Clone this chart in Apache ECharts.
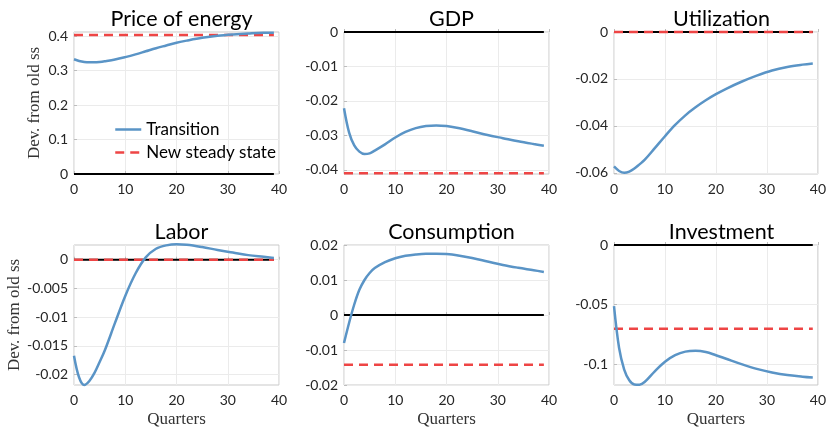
<!DOCTYPE html>
<html>
<head>
<meta charset="utf-8">
<script src="https://cdn.jsdelivr.net/npm/echarts@6/dist/echarts.min.js"></script>
<style>
  html, body { margin: 0; padding: 0; background: #fff; }
  #chart { width: 829px; height: 429px; }
</style>
</head>
<body>
<div id="chart"></div>
<script>
const quarters = [0, 1, 2, 3, 4, 5, 6, 8, 10, 12, 14, 16, 18, 20, 22, 25, 28, 31, 34, 37, 39]
const lastQuarter = 39

const titles = ['Price of energy', 'GDP', 'Utilization', 'Labor', 'Consumption', 'Investment']

const priceEnergy = [0.333, 0.328, 0.325, 0.324, 0.324, 0.325, 0.327, 0.332, 0.339, 0.347, 0.356, 0.365, 0.373, 0.381, 0.387, 0.395, 0.401, 0.405, 0.408, 0.410, 0.410]
const gdp = [-0.0221, -0.0292, -0.0329, -0.0347, -0.0354, -0.0352, -0.0344, -0.0326, -0.0306, -0.0290, -0.0279, -0.0273, -0.0271, -0.0273, -0.0278, -0.0288, -0.0299, -0.0308, -0.0317, -0.0325, -0.0330]
const utilization = [-0.0573, -0.0592, -0.0600, -0.0595, -0.0582, -0.0564, -0.0545, -0.0495, -0.0444, -0.0396, -0.0355, -0.0321, -0.0291, -0.0265, -0.0242, -0.0212, -0.0186, -0.0164, -0.0149, -0.0139, -0.0134]
const labor = [-0.0167, -0.0205, -0.0218, -0.0211, -0.0197, -0.0178, -0.0158, -0.0110, -0.0063, -0.0024, 0.0004, 0.0019, 0.0025, 0.0027, 0.0026, 0.0022, 0.0017, 0.00125, 0.0008, 0.0005, 0.0003]
const consumption = [-0.0080, -0.0022, 0.0030, 0.0072, 0.0100, 0.0120, 0.0134, 0.0151, 0.0162, 0.0169, 0.0173, 0.0175, 0.0175, 0.0174, 0.0171, 0.0163, 0.0153, 0.0143, 0.0135, 0.0128, 0.0123]
const investment = [-0.0514, -0.0865, -0.1045, -0.1135, -0.1170, -0.1172, -0.1150, -0.1060, -0.0980, -0.0925, -0.0895, -0.0888, -0.0898, -0.0925, -0.0955, -0.1000, -0.1040, -0.1070, -0.1092, -0.1105, -0.1112]

// new steady state levels
const steadyState = [0.403, -0.041, 0, 0, -0.0142, -0.0703]

// y ranges and tick labels
const yMin = [0, -0.0412, -0.0605, -0.0218, -0.02, -0.1175]
const yMax = [0.412, 0, 0, 0.00256, 0.02, 0]
const yTicks = [
  [0, 0.1, 0.2, 0.3, 0.4],
  [-0.04, -0.03, -0.02, -0.01, 0],
  [-0.06, -0.04, -0.02, 0],
  [-0.02, -0.015, -0.01, -0.005, 0],
  [-0.02, -0.01, 0, 0.01, 0.02],
  [-0.1, -0.05, 0]
]
const xTicks = [0, 10, 20, 30, 40]

const paths = [priceEnergy, gdp, utilization, labor, consumption, investment]

const BLUE = '#5a94c6'
const RED = '#ee4545'
const SANS = 'Lato'
const SERIF = 'Liberation Serif'

const lefts = [74, 344, 614]
const tops = [32, 245]
const W = 205
const H = 142

const chart = echarts.init(document.getElementById('chart'), null, { renderer: 'canvas' })

const grids = []
const xAxes = []
const yAxes = []
const series = []
const titleList = []

for (let i = 0; i < 6; i++) {
  const col = i % 3
  const row = Math.floor(i / 3)
  grids.push({
    left: lefts[col], top: tops[row], width: W, height: H,
    show: true, borderColor: '#c9c9c9', borderWidth: 1, backgroundColor: 'transparent'
  })
  titleList.push({
    text: titles[i],
    left: lefts[col] + W / 2,
    top: row === 0 ? 3 : 216,
    textAlign: 'center',
    textStyle: { fontFamily: SANS, fontSize: 21.5, fontWeight: 'normal', color: '#000' }
  })
  xAxes.push({
    type: 'value', gridIndex: i, min: 0, max: 40, interval: 10,
    axisLine: { show: false },
    axisTick: { show: true, inside: true, length: 3, lineStyle: { color: '#bdbdbd' } },
    splitLine: { show: true, lineStyle: { color: '#ebebeb', width: 1 } },
    axisLabel: {
      margin: 8, fontFamily: SANS, fontSize: 14, color: '#262626',
      customValues: xTicks
    },
    name: row === 1 ? 'Quarters' : '',
    nameLocation: 'middle',
    nameGap: 26,
    nameTextStyle: { fontFamily: SERIF, fontSize: 17, color: '#333' }
  })
  yAxes.push({
    type: 'value', gridIndex: i, min: yMin[i], max: yMax[i],
    axisLine: { show: false },
    axisTick: { show: true, inside: true, length: 3, lineStyle: { color: '#bdbdbd' }, customValues: yTicks[i] },
    splitLine: { show: true, lineStyle: { color: '#ebebeb', width: 1 } },
    axisLabel: {
      margin: 6, fontFamily: SANS, fontSize: 14, color: '#262626',
      customValues: yTicks[i],
      formatter: (v) => String(+v.toFixed(4))
    },
    name: col === 0 ? 'Dev. from old ss' : '',
    nameLocation: 'middle',
    nameGap: row === 0 ? 31 : 51,
    nameTextStyle: { fontFamily: SERIF, fontSize: 17, color: '#333' }
  })

  series.push({
    type: 'line', xAxisIndex: i, yAxisIndex: i, silent: true, clip: false,
    showSymbol: false, symbol: 'none', z: 2,
    lineStyle: { color: '#000', width: 2 },
    data: [[0, 0], [lastQuarter, 0]]
  })
  series.push({
    name: 'New steady state',
    type: 'line', xAxisIndex: i, yAxisIndex: i, silent: true, clip: false,
    showSymbol: false, symbol: 'none', z: 3,
    color: RED,
    lineStyle: { color: RED, width: 2.5, type: [9, 6] },
    data: [[0, steadyState[i]], [lastQuarter, steadyState[i]]]
  })
  series.push({
    name: 'Transition',
    type: 'line', xAxisIndex: i, yAxisIndex: i, silent: true, clip: false,
    showSymbol: false, symbol: 'none', smooth: 0.35, z: 4,
    color: BLUE,
    lineStyle: { color: BLUE, width: 2.5 },
    data: quarters.map((q, k) => [q, paths[i][k]])
  })
}

chart.setOption({
  animation: false,
  title: titleList,
  legend: {
    data: ['Transition', 'New steady state'],
    orient: 'vertical',
    left: 109, top: 116,
    itemWidth: 26, itemHeight: 12, itemGap: 6,
    itemStyle: { opacity: 0 },
    lineStyle: { width: 2.5 },
    textStyle: { fontFamily: SANS, fontSize: 17, color: '#000' }
  },
  grid: grids,
  xAxis: xAxes,
  yAxis: yAxes,
  series
})
</script>
</body>
</html>
